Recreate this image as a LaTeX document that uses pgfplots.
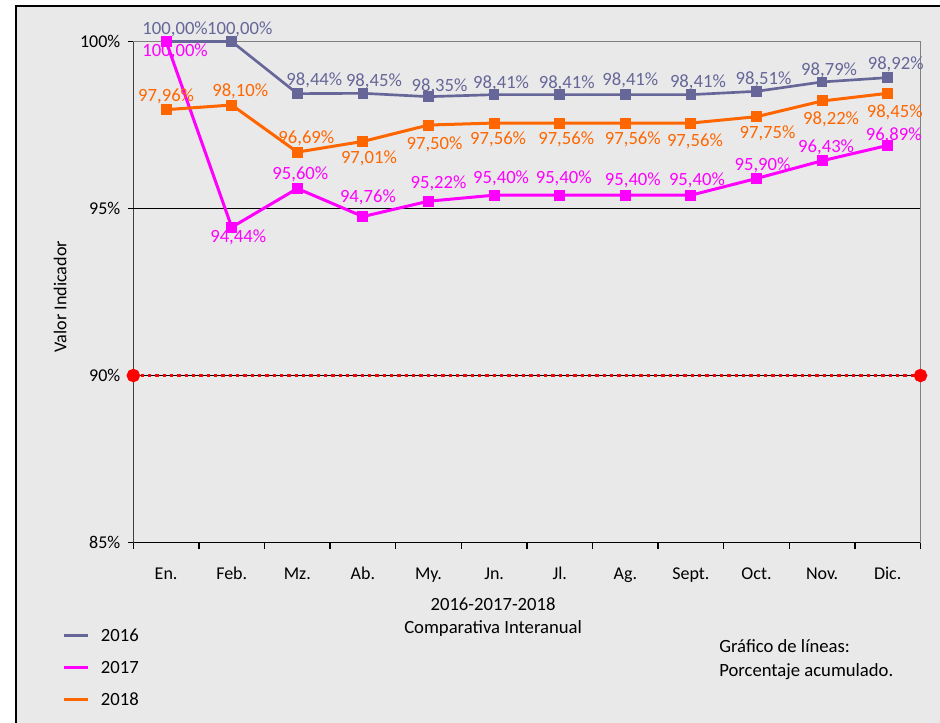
\documentclass[border=0pt]{standalone}
\usepackage{pgfplots}
\pgfplotsset{compat=1.18}
\usepackage{pgfplotstable}
\usepackage{fontspec}
\setmainfont{Carlito}

\definecolor{bg}{RGB}{233,233,233}
\definecolor{c16}{RGB}{102,102,153}
\definecolor{c17}{RGB}{255,0,255}
\definecolor{c18}{RGB}{255,102,0}

% x y dx dy  (dx, dy: label offset in px)
\pgfplotstableread{
x y dx dy
1 100.00 9 12
2 100.00 8 12
3 98.44 17 13
4 98.45 11 12
5 98.35 11 10
6 98.41 7 11
7 98.41 7 11
8 98.41 5 14
9 98.41 7 12
10 98.51 7 12
11 98.79 7 12
12 98.92 8 13
}\tabA
\pgfplotstableread{
x y dx dy
1 100.00 9 -10
2 94.44 6.5 -10
3 95.60 3 14
4 94.76 5 19.5
5 95.22 10 17.5
6 95.40 7 16.5
7 95.40 4 16.5
8 95.40 7.5 15
9 95.40 6 15
10 95.90 6 13
11 96.43 4 13
12 96.89 6 10
}\tabB
\pgfplotstableread{
x y dx dy
1 97.96 0 13.5
2 98.10 8.5 14
3 96.69 9 14
4 97.01 6 -16.5
5 97.50 6 -19
6 97.56 4 -16.5
7 97.56 6.5 -16.5
8 97.56 7.5 -16.5
9 97.56 4 -18
10 97.75 11 -16.5
11 98.22 9 -18
12 98.45 7 -19.5
}\tabC

\pgfplotsset{
  lbl/.style={
    draw=none, mark=none, forget plot,
    point meta=explicit,
    nodes near coords={\pgfmathprintnumber[fixed,fixed zerofill,precision=2,use comma]{\pgfplotspointmeta}\%},
    every node near coord/.append style={font=\fontsize{14}{16}\selectfont,
      text=#1, anchor=center, inner sep=0pt},
  },
  ser/.style={#1, line width=2.25pt, mark=square*, mark size=3pt, mark options={solid}, forget plot},
}
% label positions: data point shifted by (dx, dy) px; 65.6 px per month, 33.4 px per percent
\def\lblx{\thisrow{x}+\thisrow{dx}/65.6}
\def\lbly{\thisrow{y}+\thisrow{dy}/33.4}

\begin{document}
\begin{tikzpicture}
\begin{scope}[x=0.75pt,y=-0.75pt]
  \fill[white] (0,0) rectangle (940,722);
  \fill[bg] (16,6) rectangle (960,740);
  \draw[black, line width=1.2pt] (16,740) -- (16,6) -- (960,6);
\end{scope}

\begin{axis}[
  at={(100pt,-406.9pt)}, anchor=south west,
  scale only axis, width=590.4pt, height=375.75pt,
  xmin=0.5, xmax=12.5, ymin=85, ymax=100,
  clip=false,
  /pgf/number format/assume math mode=true,
  axis lines=left,
  x axis line style={-, black, line width=1.1pt},
  y axis line style={-, black!75, line width=1.2pt},
  tick align=outside,
  xtick={1,...,12},
  xticklabels={En.,Feb.,Mz.,Ab.,My.,Jn.,Jl.,Ag.,Sept.,Oct.,Nov.,Dic.},
  major x tick style={draw=none},
  minor xtick={0.5,1.5,...,12.5},
  minor x tick style={black, line width=1pt},
  minor tick length=4.5pt,
  major tick length=3.75pt,
  ytick={85,90,95,100},
  ytick style={black, line width=1pt},
  yticklabel={\pgfmathprintnumber{\tick}\%},
  yticklabel style={font=\fontsize{13.5}{16}\selectfont, xshift=-2.5pt},
  xticklabel style={font=\fontsize{13.5}{16}\selectfont, anchor=base, yshift=-23.6pt},
  extra y ticks={90,95},
  extra y tick labels={},
  extra y tick style={grid=major, major tick length=0pt},
  major grid style={black, line width=0.75pt},
  xlabel={2016-2017-2018\\Comparativa Interanual},
  xlabel style={at={(axis description cs:0.457,-0.1497)}, anchor=center, align=center,
    font=\fontsize{14}{17.25}\selectfont},
  ylabel={Valor Indicador},
  ylabel style={at={(axis description cs:-0.0931,0.4906)}, anchor=center,
    font=\fontsize{13.6}{16}\selectfont},
  legend style={at={(axis description cs:-0.0906,-0.1713)}, anchor=north west,
    draw=none, fill=none, inner sep=0pt, row sep=14pt, column sep=9pt,
    font=\fontsize{14}{16}\selectfont,
    nodes={inner sep=0pt, text height=10pt, text depth=0pt}},
  legend cell align=left,
  legend image code/.code={\draw[#1] (0pt,0pt) -- (18pt,0pt);},
]
\draw[black!50, line width=0.9pt] (rel axis cs:0,1) -- (rel axis cs:1,1) -- (rel axis cs:1,0);

% objetivo 90%
\addplot[red, line width=2.5pt, dash pattern=on 2.5pt off 3pt, forget plot,
  mark=*, mark size=3.75pt, mark options={solid}]
  coordinates {(0.5,90) (12.5,90)};

\addplot[ser=c16, line width=2pt] table[x=x, y=y] {\tabA};
\addplot[ser=c17] table[x=x, y=y] {\tabB};
\addplot[ser=c18] table[x=x, y=y] {\tabC};

\addplot[lbl=c16] table[x expr=\lblx, y expr=\lbly, meta=y] {\tabA};
\addplot[lbl=c17] table[x expr=\lblx, y expr=\lbly, meta=y] {\tabB};
\addplot[lbl=c18] table[x expr=\lblx, y expr=\lbly, meta=y] {\tabC};

\addlegendimage{c16, line width=2pt}
\addlegendentry{2016}
\addlegendimage{c17, line width=2pt}
\addlegendentry{2017}
\addlegendimage{c18, line width=2pt}
\addlegendentry{2018}
\end{axis}

\begin{scope}[x=0.75pt,y=-0.75pt]
  \node[anchor=west, align=left, inner sep=0pt, font=\fontsize{14}{18}\selectfont]
    at (719,660) {Gráfico de líneas:\\Porcentaje acumulado.};
\end{scope}
\pgfresetboundingbox
\path (0pt,0pt) rectangle (705pt,-541.5pt);
\end{tikzpicture}
\end{document}
